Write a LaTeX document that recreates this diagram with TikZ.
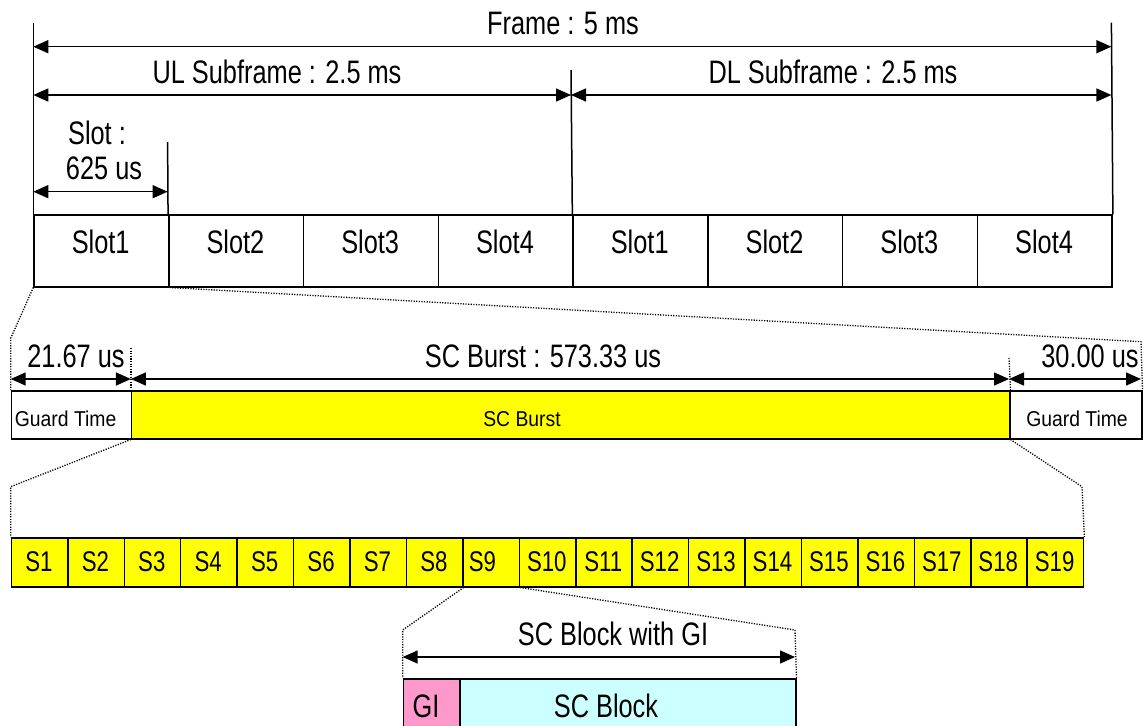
\documentclass[tikz,border=0pt]{standalone}
\usepackage{fontspec}
\setmainfont{Liberation Sans}[FakeStretch=0.78]
\newfontfamily\smallfam{Liberation Sans}[FakeStretch=0.9]
\usetikzlibrary{arrows.meta}
\definecolor{burst}{HTML}{FFFF00}
\definecolor{gipink}{HTML}{FF99CC}
\definecolor{blockcyan}{HTML}{CCFFFF}
\begin{document}
\begin{tikzpicture}[x=1pt,y=-1pt,line width=1.5pt,
  dim/.style={{Triangle[length=15pt,width=13pt]}-{Triangle[length=15pt,width=13pt]},line width=1.5pt},
  dotline/.style={line width=1.3pt,dash pattern=on 1.2pt off 1.4pt},
  cell/.style={draw,line width=1.5pt,inner sep=0pt,anchor=north west},
  big/.style={font=\fontsize{32.5}{32.5}\selectfont,inner sep=0pt,anchor=base},
  mid/.style={font=\fontsize{28.5}{28.5}\selectfont,inner sep=0pt,anchor=base},
  small/.style={font=\smallfam\fontsize{21.5}{21.5}\selectfont,inner sep=0pt,anchor=base}]
\useasboundingbox (0,0) rectangle (1147,725);

% ---------- top: frame ----------
\foreach \i/\t in {1/Slot1,2/Slot2,3/Slot3,4/Slot4,5/Slot1,6/Slot2,7/Slot3,8/Slot4}{
  \node[cell,minimum width=134.76pt,minimum height=71.7pt] (s\i) at ({33.3+(\i-1)*134.76},214.3) {};
  \node[big] (ls\i) at ({33.3+(\i-0.5)*134.76},253) {\t};
}
\coordinate (fLt) at (33.3,22.7);
\coordinate (fRt) at (1111.4,22.7);
\coordinate (fMt) at (571,70);
\coordinate (fSt) at (167.6,142);
\draw (fLt) -- (s1.north west);
\draw (fRt) -- (s8.north east);
\draw (fMt) -- (s5.north west);
\draw (fSt) -- (s2.north west);

\coordinate (aFL) at (33.3,46.7);
\coordinate (aFR) at (1111.4,46.7);
\coordinate (aUL) at (33.3,95);
\coordinate (aUM) at (571,95);
\coordinate (aUR) at (1111.4,95);
\coordinate (aSL) at (33.3,191.7);
\coordinate (aSR) at (167.6,191.7);
\draw[dim] (aFL) -- (aFR);
\draw[dim] (aUL) -- (aUM);
\draw[dim] (aUM) -- (aUR);
\draw[dim] (aSL) -- (aSR);

\node[big] (tframe) at (563,35) {Frame : 5 ms};
\node[big] (tul) at (277,83.3) {UL Subframe : 2.5 ms};
\node[big] (tdl) at (833,83.3) {DL Subframe : 2.5 ms};
\node[big] (tslot) at (97,144) {Slot :};
\node[big] (tslotv) at (104,179) {625 us};

% ---------- middle: slot ----------
\node[cell,minimum width=120.2pt,minimum height=48pt] (gt1) at (10.7,390) {};
\node[cell,fill=burst,minimum width=878.1pt,minimum height=48pt] (scb) at (130.9,390) {};
\node[cell,minimum width=132pt,minimum height=48pt] (gt2) at (1009,390) {};
\node[small] (lgt1) at (65.6,426.7) {Guard Time};
\node[small] (lscb) at (522,426.7) {SC Burst};
\node[small] (lgt2) at (1077,426.7) {Guard Time};

\coordinate (zl1) at (10.7,338.3);
\coordinate (zr1) at (1141,341.7);
\draw[dotline] (s1.south west) -- (zl1) -- (gt1.north west);
\draw[dotline] (s1.south east) -- (zr1) -- (gt2.north east);
\coordinate (vb1) at (130.9,348);
\coordinate (vb2) at (1009,358);
\draw[dotline] (vb1) -- (scb.north west);
\draw[dotline] (vb2) -- (scb.north east);

\coordinate (m0) at (10.7,379);
\coordinate (m1) at (130.9,379);
\coordinate (m2) at (1009,379);
\coordinate (m3) at (1141,379);
\draw[dim] (m0) -- (m1);
\draw[dim] (m1) -- (m2);
\draw[dim] (m2) -- (m3);
\node[big] (t1) at (76,367) {21.67 us};
\node[big] (t2) at (543,367) {SC Burst : 573.33 us};
\node[big] (t3) at (1090,367) {30.00 us};

% ---------- S row ----------
\foreach \i in {1,...,19}{
  \node[cell,fill=burst,minimum width=56.43pt,minimum height=49pt] (c\i) at ({10.7+(\i-1)*56.43},537) {};
}
\foreach \i in {1,...,8,10,11,12,13,14,15,16,17,18,19}{
  \node[mid] (lc\i) at ({10.7+(\i-0.5)*56.43},571.7) {S\i};
}
\node[mid] (lc9) at ({10.7+8.5*56.43-8},571.7) {S9};

\coordinate (zl2) at (10.7,486.7);
\coordinate (zr2) at (1082,486.7);
\draw[dotline] (scb.south west) -- (zl2) -- (c1.north west);
\draw[dotline] (scb.south east) -- (zr2) -- (c19.north east);

% ---------- bottom: block ----------
\node[cell,fill=gipink,minimum width=56.3pt,minimum height=62pt] (gi) at (402.7,678) {};
\node[cell,fill=blockcyan,minimum width=336pt,minimum height=62pt] (blk) at (459,678) {};
\node[big] (lgi) at (426,717) {GI};
\node[big] (lblk) at (606,717) {SC Block};

\coordinate (zl3) at (402.7,630);
\coordinate (zr3) at (795,630);
\draw[dotline] (c8.south east) -- (zl3) -- (gi.north west);
\draw[dotline] (c9.south east) -- (zr3) -- (blk.north east);

\coordinate (b0) at (402.7,657);
\coordinate (b1) at (795,657);
\draw[dim] (b0) -- (b1);
\node[big] (tblk) at (613,645) {SC Block with GI};
\end{tikzpicture}
\end{document}
